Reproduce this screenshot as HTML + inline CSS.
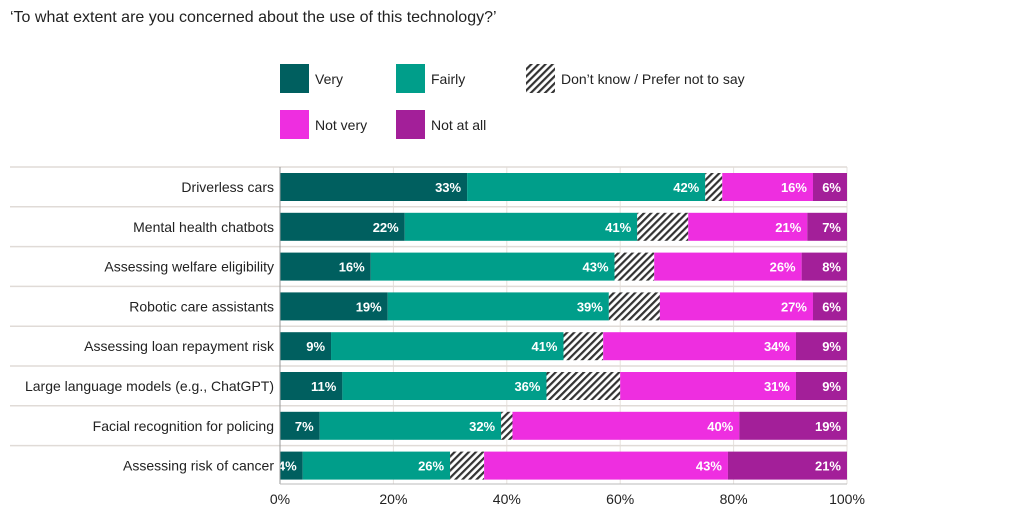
<!DOCTYPE html>
<html><head><meta charset="utf-8"><style>
body{margin:0;background:#fff;font-family:"Liberation Sans",sans-serif;}
svg text{font-family:"Liberation Sans",sans-serif;}
</style></head><body>
<svg width="1027" height="516" xmlns="http://www.w3.org/2000/svg">
<defs><pattern id="hatch" width="5" height="5" patternUnits="userSpaceOnUse" patternTransform="rotate(45)"><rect width="5" height="5" fill="#fff"/><rect width="2.2" height="5" fill="#333"/></pattern></defs>
<text x="10" y="22" font-size="16" fill="#222">‘To what extent are you concerned about the use of this technology?’</text>
<g>
<rect x="280" y="64" width="29" height="29" fill="#005f5f"/><text x="315" y="84" font-size="14" fill="#222">Very</text>
<rect x="396" y="64" width="29" height="29" fill="#009e8a"/><text x="431" y="84" font-size="14" fill="#222">Fairly</text>
<rect x="526" y="64" width="29" height="29" fill="url(#hatch)"/><text x="561" y="84" font-size="14" fill="#222">Don’t know / Prefer not to say</text>
<rect x="280" y="110" width="29" height="29" fill="#ee2ee0"/><text x="315" y="130" font-size="14" fill="#222">Not very</text>
<rect x="396" y="110" width="29" height="29" fill="#a31f99"/><text x="431" y="130" font-size="14" fill="#222">Not at all</text>
</g>
<g id="plot"></g>
</svg>
<script>
const categories=["Driverless cars","Mental health chatbots","Assessing welfare eligibility","Robotic care assistants","Assessing loan repayment risk","Large language models (e.g., ChatGPT)","Facial recognition for policing","Assessing risk of cancer"];
const very=[33,22,16,19,9,11,7,4];
const fairly=[42,41,43,39,41,36,32,26];
const dontKnow=[3,9,7,9,7,13,2,6];
const notVery=[16,21,26,27,34,31,40,43];
const notAtAll=[6,7,8,6,9,9,19,21];
const ticks=[0,20,40,60,80,100];
const series=[{n:"very",v:very,c:"#005f5f",l:true},{n:"fairly",v:fairly,c:"#009e8a",l:true},{n:"dontknow",v:dontKnow,c:"url(#hatch)",l:false},{n:"notvery",v:notVery,c:"#ee2ee0",l:true},{n:"notatall",v:notAtAll,c:"#a31f99",l:true}];
const X0=280,X1=847,Y0=167,PITCH=39.8,BH=28;
const x=v=>X0+(X1-X0)*v/100;
const ns="http://www.w3.org/2000/svg",g=document.getElementById("plot");
function mk(t,a){const e=document.createElementNS(ns,t);for(const k in a)e.setAttribute(k,a[k]);g.appendChild(e);return e;}
ticks.forEach(t=>{const l=mk("line",{x1:x(t),x2:x(t),y1:Y0,y2:484,stroke:"#e6e0dc","stroke-width":1});


const tx=mk("text",{x:x(t),y:504,"font-size":14,fill:"#222","text-anchor":"middle"});tx.textContent=t+"%";

});
categories.forEach((c,i)=>{const top=Y0+i*PITCH;
const sep=mk("line",{x1:10,x2:X1,y1:top,y2:top,stroke:"#e0dbd7","stroke-width":1.5});


const lb=mk("text",{x:274,y:top+25,"font-size":14,fill:"#222","text-anchor":"end"});lb.textContent=c;


let acc=0;series.forEach(s=>{const v=s.v[i];const r=mk("rect",{x:x(acc),y:top+6,width:x(acc+v)-x(acc),height:BH,fill:s.c});


acc+=v;if(s.l){const t=mk("text",{x:x(acc)-6,y:top+25,"font-size":13,"font-weight":"bold",fill:"#fff","text-anchor":"end"});t.textContent=v+"%";

}});});
const ax=mk("line",{x1:X0,x2:X0,y1:Y0,y2:484,stroke:"#999","stroke-width":1});


const bx=mk("line",{x1:X0,x2:X1,y1:484,y2:484,stroke:"#bbb","stroke-width":1});


</script>
</body></html>
